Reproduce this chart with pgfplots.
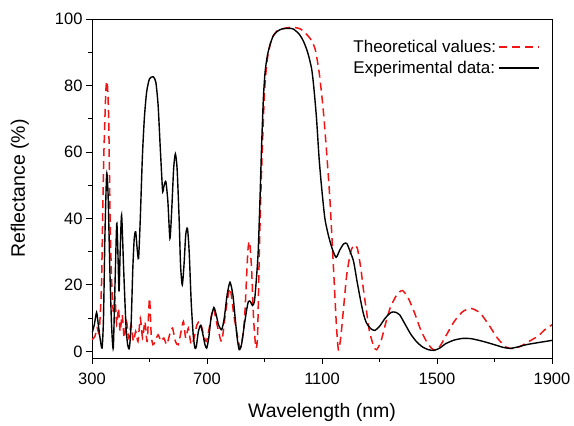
\documentclass[border=0pt]{standalone}
\usepackage{fontspec}
\setmainfont{Liberation Sans}
\usepackage{pgfplots}
\pgfplotsset{compat=1.18}

\definecolor{theo}{RGB}{240,20,20}

\begin{document}
\begin{tikzpicture}[x=1pt,y=1pt]
\path[use as bounding box] (0,0) rectangle (574,426);
\begin{axis}[
  at={(92pt,68pt)}, anchor=south west,
  scale only axis, width=460pt, height=339pt,
  xmin=300, xmax=1900, ymin=-2, ymax=100,
  xtick={300,700,1100,1500,1900}, minor x tick num=1,
  ytick={0,20,40,60,80,100}, minor y tick num=1,
  tick align=outside, tick pos=left,
  major tick length=6pt, minor tick length=4pt,
  every tick/.style={black, line width=0.8pt},
  axis line style={line width=0.9pt},
  /pgf/number format/assume math mode=true,
  /pgf/number format/1000 sep={},
  ticklabel style={font=\fontsize{16.5}{18}\selectfont},
  xticklabel style={yshift=-5pt},
  xlabel={Wavelength (nm)}, ylabel={Reflectance (\%)},
  label style={font=\fontsize{19.5}{22}\selectfont},
  xlabel style={at={(axis description cs:0.5,0)}, anchor=base, yshift=-59.5pt},
  ylabel style={at={(axis description cs:0,0.5)}, anchor=base, yshift=67pt},
  legend plot pos=right, legend cell align=left,
  legend image code/.code={\draw[#1] (0pt,0pt) -- (40pt,0pt);},
  legend style={draw=none, fill=none, at={(rel axis cs:0.98,0.95)}, anchor=north east,
    font=\fontsize{17}{19}\selectfont, row sep=3pt},
]
\addplot[theo, line width=1.5pt, dash pattern=on 8pt off 5pt, smooth, tension=0.4] coordinates {
(300,3.5) (310,4.5) (318,7) (325,6) (333,20) (340,55) (348,78) (353,81) (358,70)
(363,40) (368,22) (374,12) (380,16) (386,8) (392,13) (398,6) (405,11) (412,4)
(420,9) (428,4) (436,8) (444,3) (452,6) (460,3) (468,10) (476,4) (484,9) (492,3)
(500,16) (506,5) (512,2) (520,3) (530,5) (540,3) (550,4) (560,2) (570,5) (580,7)
(590,3) (600,2) (610,6) (618,9) (626,4) (635,7) (645,2) (655,4) (665,8) (676,9)
(688,5) (698,3) (710,8) (722,13) (735,8) (751,3) (765,12) (780,19) (795,10)
(815,1) (825,5) (832,12) (842,30) (848,33) (855,25) (862,10) (870,1) (876,5)
(882,30) (890,55) (900,78) (910,88) (925,94) (945,96.5) (975,97.3) (1000,97.5)
(1025,97) (1045,95.5) (1060,94) (1076,91) (1090,84) (1104,73) (1116,60) (1128,45)
(1140,25) (1150,8) (1157,0.5) (1165,4) (1175,13) (1186,23) (1200,30) (1212,32)
(1223,31) (1235,25) (1245,18) (1255,12) (1265,6) (1280,1.5) (1290,0.5) (1305,3)
(1320,8) (1337,13) (1360,17) (1380,18.3) (1400,16) (1420,12) (1441,7) (1460,3.5)
(1480,1) (1495,0.3) (1510,1.5) (1530,4.5) (1560,9) (1590,12) (1620,12.9)
(1650,11.5) (1680,8) (1710,4) (1740,1.3) (1765,0.8) (1790,1.5) (1820,3)
(1850,4.5) (1875,6.5) (1900,8)
};
\addlegendentry{Theoretical values:}
\addplot[black, line width=1.4pt, smooth, tension=0.4] coordinates {
(300,5.4) (308,8) (316,11.7) (322,8) (328,4) (335,1) (340,10) (345,35) (351,53.4)
(356,47) (362,25) (368,8) (374,1) (380,20) (386,38.5) (390,30) (394,18) (398,30)
(403,41) (410,25) (418,8) (424,2) (430,1) (436,8) (442,25) (447,34) (452,36)
(457,31) (462,28) (468,40) (475,58) (482,70) (490,78) (500,82) (513,82.6)
(522,81) (530,74) (537,62) (543,52) (546,48) (551,50) (557,51) (564,45) (571,34)
(577,42) (584,55) (590,59.4) (596,55) (603,40) (608,26) (614,20) (620,26)
(626,35) (632,37) (638,30) (645,15) (652,5) (658,1) (663,1.5) (670,6) (678,7.8)
(686,5) (693,2) (699,1) (706,4) (714,10) (724,13.2) (732,11) (740,8) (751,6.5)
(760,10) (770,17) (780,20.8) (790,17) (798,10) (805,4) (812,0.5) (820,2) (830,8)
(838,12.5) (844,15) (851,15) (858,13.8) (865,15) (872,22) (878,30) (884,45)
(890,62) (896,76) (902,84) (910,89) (920,92.5) (931,95) (945,96.3) (960,97)
(983,97.2) (1000,97) (1020,95.5) (1035,93.4) (1050,90) (1064,85) (1072,79)
(1081,70) (1090,58) (1099,49) (1110,40) (1122,35) (1135,31) (1149,28.3)
(1162,30.5) (1175,32.3) (1186,32.5) (1198,30) (1210,27) (1222,21) (1235,15)
(1245,11) (1255,8.5) (1270,6.8) (1284,6.3) (1300,7.5) (1320,10) (1340,11.7)
(1354,11.8) (1370,11) (1390,8) (1410,5) (1430,2.8) (1450,1.3) (1470,0.5)
(1490,0.3) (1510,1) (1530,2.3) (1560,3.4) (1590,3.9) (1620,3.8) (1660,3)
(1700,2) (1730,1.2) (1754,0.9) (1780,1.3) (1810,2) (1850,2.6) (1900,3.3)
};
\addlegendentry{Experimental data:}
\end{axis}
\end{tikzpicture}
\end{document}
